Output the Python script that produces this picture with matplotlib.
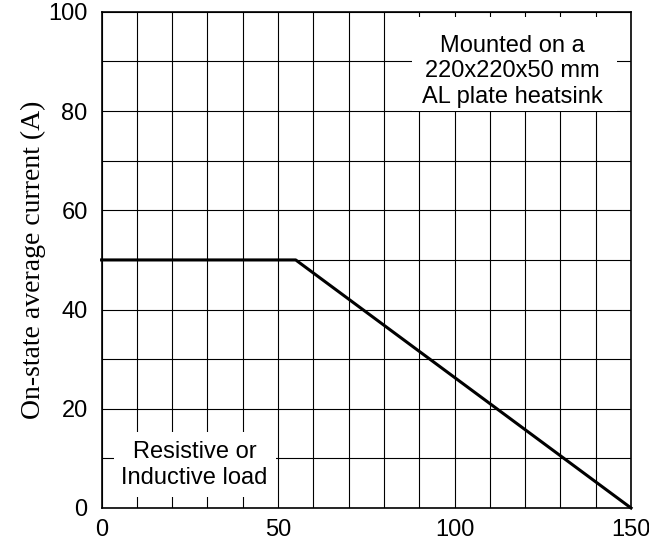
import numpy as np
import matplotlib.pyplot as plt
from matplotlib.patches import Rectangle

# Derating curve: case temperature vs on-state average current
temp = [0, 55, 150]
current = [50, 50, 0]

x_ticks = [0, 50, 100, 150]
y_ticks = [0, 20, 40, 60, 80, 100]

note_top = "Mounted on a\n220x220x50 mm\nAL plate heatsink"
note_bottom = "Resistive or\nInductive load"


def main():
    fig = plt.figure(figsize=(6.49, 5.47), dpi=100)
    ax = fig.add_axes([0.1565, 0.0713, 0.8158, 0.907])

    ax.set_xlim(0, 150)
    ax.set_ylim(0, 100)

    # grid every 10 units
    ax.set_xticks(np.arange(0, 151, 10), minor=True)
    ax.set_yticks(np.arange(0, 101, 10), minor=True)
    ax.grid(True, which='both', color='black', linewidth=0.8, zorder=1)
    ax.set_axisbelow(True)

    ax.set_xticks(x_ticks)
    ax.set_yticks(y_ticks)
    ax.tick_params(which='both', length=0)
    ax.tick_params(axis='x', pad=8)
    ax.tick_params(axis='y', pad=10)
    for lab in ax.get_xticklabels() + ax.get_yticklabels():
        lab.set_fontfamily('Liberation Sans')
        lab.set_fontsize(17)

    for sp in ax.spines.values():
        sp.set_linewidth(1.2)

    # white boxes hiding the grid behind the notes
    ax.add_patch(Rectangle((88, 80), 58, 19, facecolor='white', edgecolor='none', zorder=2))
    ax.add_patch(Rectangle((3.4, 2.2), 45.9, 13.1, facecolor='white', edgecolor='none', zorder=2))

    ax.text(116.5, 88, note_top, ha='center', va='center', fontsize=17,
            family='Liberation Sans', linespacing=1.2, zorder=3)
    ax.text(26.3, 8.7, note_bottom, ha='center', va='center', fontsize=17,
            family='Liberation Sans', linespacing=1.2, zorder=3)

    ax.plot(temp, current, color='black', linewidth=2.2, zorder=4, clip_on=False)

    ax.set_ylabel('On-state average current (A)', family='Liberation Serif',
                  fontsize=20, labelpad=2)

    fig.savefig('out.png', dpi=100)


if __name__ == "__main__":
    main()
